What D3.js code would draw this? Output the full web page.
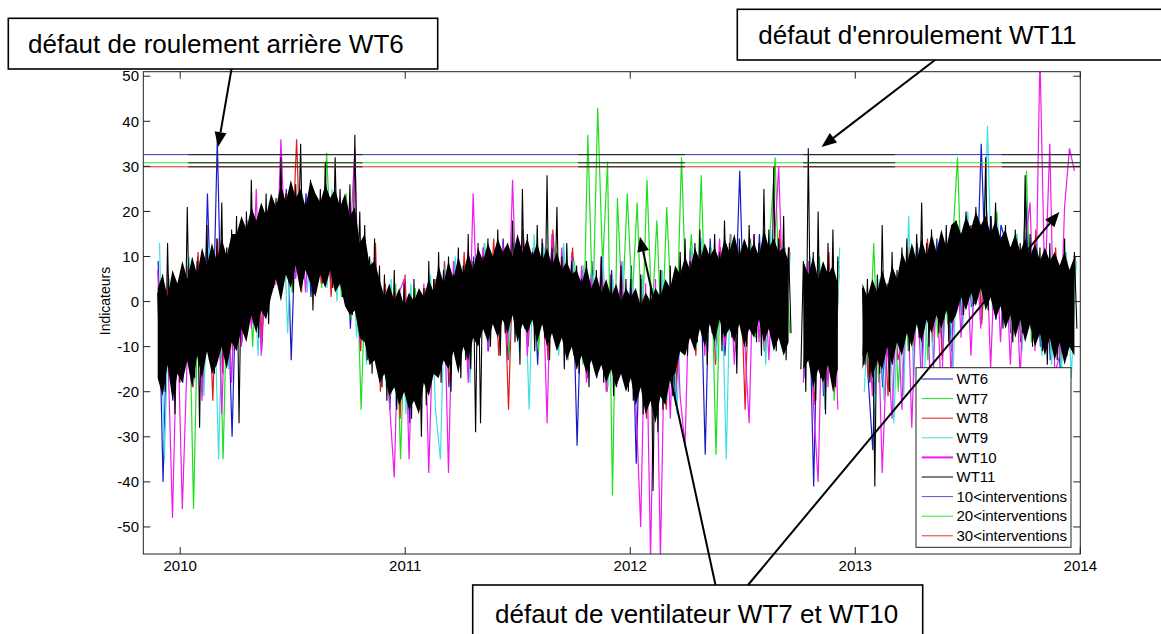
<!DOCTYPE html>
<html><head><meta charset="utf-8">
<script src="https://cdn.jsdelivr.net/npm/d3@7"></script>
<style>html,body{margin:0;padding:0;background:#fff;} svg{display:block;font-family:"Liberation Sans",Arial,sans-serif;}</style>
</head><body><svg id="chart" width="1161" height="634"></svg>
<script>
// ---------------- DATA ----------------
const yearTicks = [2010, 2011, 2012, 2013, 2014];
const valueTicks = [-50, -40, -30, -20, -10, 0, 10, 20, 30, 40, 50];
const seriesNames = ["WT6", "WT7", "WT8", "WT9", "WT10", "WT11"];
const thresholdNames = ["10<interventions", "20<interventions", "30<interventions"];
const thresholdValues = [32.6, 30.8, 29.9];
const thresholdBlackPeriods = [[2010.036, 2010.81], [2011.769, 2012.243], [2012.768, 2013.177], [2013.651, 2014.0]];

// WT6..WT10 sampled every 8 days from their start year, WT11 every 4 days
const coloredStart = [2009.902, 2009.906, 2009.904, 2009.908, 2009.900];
const coloredStepDays = 8;
const wt11Start = 2009.900;
const wt11StepDays = 4;
// WT11 dense core (typical low / high of the daily values) per 8-day bin
const wt11BandStart = 2009.900;
const wt11BandStepDays = 8;

const wt6 = [9,-40,4,-22,1,
 -18,7,-15,10,-20,24,-12,36,-14,8,-30,
 12,-9,18,-5,14,-11,20,
 2,22,5,25,-13,21,6,24,1,19,8,26,4,20,3,23,
 -6,16,-10,12,-13,9,
 -18,3,-24,1,-20,5,-27,-1,-22,2,-19,4,
 -15,7,-19,9,-12,6,-16,10,
 -8,12,-11,9,-5,14,-13,10,-7,16,-9,11,-14,13,-6,15,-10,8,-12,11,
 -32,6,-14,9,-17,4,-12,7,-19,3,-15,8,
 -36,4,-21,2,-25,6,-19,1,-23,5,
 -9,12,-6,10,-34,14,-8,11,-12,9,-5,29,-10,13,-7,15,-11,10,-4,14,-9,12,
 null,null,
 -17,8,-41,10,-21,6,-18,9,
 null,null,null,null,
 2,-16,-33,4,-19,1,-14,3,
 -10,11,-7,13,-12,9,-5,14,-9,10,-11,
 16,-3,18,-1,0,35,2,19,-4,17,
 13,-7,15,-9,24,-6,12,-10,
 11,-13,8,-15,10,-9,7];

const wt7 = [5,-16,2,-12,3,
 -14,9,-46,6,-17,11,-13,8,-35,12,-10,
 15,-6,11,-10,17,-3,13,
 4,20,7,23,2,18,9,22,5,21,3,33,8,19,1,24,
 -4,14,-24,10,-12,6,
 -16,2,-21,4,-35,0,-19,3,-23,1,-17,5,
 -13,8,-17,6,-11,9,-15,7,
 -6,13,-10,8,-4,12,-12,10,-8,14,-5,9,-11,12,-7,15,-9,11,-13,10,
 4,-14,37,-3,43,8,31,-43,23,-2,24,0,
 22,-8,27,-4,18,-10,21,-3,-7,32,
 -2,15,-6,28,-9,12,-34,10,-5,13,-11,9,-4,14,-8,11,-10,16,32,-6,12,-7,
 null,null,
 -14,7,-19,10,-16,5,-22,8,
 null,null,null,null,
 -3,-15,13,-18,1,-12,3,-20,
 9,-11,12,-6,10,-13,14,-8,11,-5,13,
 32,-2,17,1,19,-4,16,3,20,-1,
 12,-8,15,-5,29,-9,13,-6,
 10,-12,9,-14,11,-10,8];

const wt8 = [3,-13,6,-17,0,
 -15,8,-19,11,-12,9,-22,14,-16,7,-11,
 14,-7,16,-4,18,-9,15,
 6,21,3,24,8,36,2,20,7,23,4,25,1,22,5,19,
 -3,15,-11,11,-8,13,
 -20,4,-18,2,-26,6,-21,0,-24,3,-17,5,
 -14,9,-18,7,-13,11,-16,8,
 -9,11,-6,14,-12,9,-24,13,-8,15,-10,12,-5,10,-13,16,-7,9,-11,12,
 -13,7,-17,5,-11,9,-20,4,-14,6,-18,3,
 -22,5,-26,3,-19,7,-24,2,-20,4,
 -8,11,-12,13,-6,10,-14,12,-9,15,-5,11,-24,14,-7,10,-11,13,-8,16,-10,12,
 null,null,
 -15,9,-23,7,-18,11,-20,6,
 null,null,null,null,
 1,-17,4,-14,2,-21,5,-13,
 -8,12,-11,10,-6,14,-9,11,-13,13,-4,
 15,-2,19,2,17,-5,20,0,18,3,
 11,-6,14,-9,12,-4,16,-8,
 9,-11,12,-13,8,-9,10];

const wt9 = [13,-35,5,-16,2,
 -14,10,-18,7,-21,12,5,-35,9,-15,13,
 -8,16,-5,13,-12,17,-2,
 20,4,23,-7,21,7,24,2,19,6,22,3,25,0,21,5,
 14,-8,12,-14,9,-10,
 2,-19,5,-23,1,-25,4,-21,0,-18,6,-24,
 -35,8,-16,10,-12,7,-18,9,
 -7,13,-10,11,-5,12,-9,14,-11,10,-24,15,-6,12,-8,11,-12,13,-5,9,
 -12,8,-16,6,-13,10,-19,5,-14,9,-17,4,
 -20,6,-24,3,-18,7,-22,2,-25,5,
 -7,12,-10,14,-6,11,-13,9,-35,15,-8,12,-11,13,-5,10,-14,16,-9,12,-6,11,
 null,null,
 -16,10,-20,8,-24,7,-17,12,
 null,null,null,null,
 -20,2,-24,5,-22,1,-27,4,
 -21,19,-18,12,-25,9,-14,13,-10,11,-16,
 17,-6,20,-3,16,1,39,-2,18,-5,
 13,-9,15,-11,12,-7,14,-12,
 10,-14,8,-16,11,-17,9];

const wt10 = [7,-20,-8,-48,-3,
 -46,-12,-19,5,-22,9,-16,11,-25,8,-18,
 14,-10,17,-6,25,-12,18,
 3,4,36,8,23,5,20,2,24,9,21,4,19,7,23,1,
 12,34,-9,14,-14,10,
 -17,3,-22,-39,2,5,-35,1,-20,4,-38,0,
 -16,7,-38,9,-13,6,-18,24,
 -8,12,-11,9,-6,13,-10,27,-7,14,-12,10,-5,11,-27,15,-9,12,-13,10,
 -15,8,-18,5,-12,10,-20,6,-16,9,-14,3,
 -22,-50,4,-57,5,-57,2,-26,6,-21,
 -32,10,-8,13,-12,11,-6,14,-10,9,-14,12,-7,-27,15,-9,11,-13,10,30,-5,12,
 null,null,
 -18,9,-22,-40,7,-19,10,-24,
 null,null,null,null,
 -12,1,-21,3,-38,-9,-26,2,
 -24,8,-28,5,-19,10,-30,7,-22,11,-17,
 14,-8,16,-12,13,-6,18,-15,15,-9,
 12,-14,10,-17,13,22,-11,55,
 2,35,-16,-12,21,34,29];

const wt11 = [2,-15,6,-20,13,-12,3,-25,4,-18,
 8,-14,21,-10,6,-17,9,-28,11,-8,17,-13,5,
 -16,14,-6,22,-12,12,-9,16,-4,19,-27,10,-7,20,
 -3,27,0,18,-8,21,2,24,-5,15,3,23,6,32,
 4,24,8,20,2,26,10,35,5,22,7,27,-2,23,9,25,4,31,11,21,3,32,8,
 25,1,22,6,26,-3,37,2,20,
 -8,17,-13,10,-16,14,-11,8,-19,
 6,-22,2,-17,7,-24,-1,-18,4,-21,1,-26,5,-19,0,-30,3,-23,
 9,-16,5,-12,11,-18,7,-14,10,-20,6,-11,12,-17,8,-13,15,-15,9,
 -29,13,-27,10,-6,14,-10,9,-4,16,-12,11,-7,13,-3,18,-9,12,-14,25,-6,15,-2,11,-11,17,-5,14,-8,28,-13,12,-4,21,-9,10,-15,13,-7,9,-12,
 8,-16,5,-12,9,-19,3,-14,7,-10,10,-18,4,-15,6,-21,2,-13,8,-17,5,-20,
 5,-22,2,-18,6,-25,0,-20,4,-42,1,-29,7,-24,3,-19,8,-21,5,
 -10,11,-6,14,-12,9,-4,13,-9,16,-2,10,-14,12,-7,15,-5,11,-11,18,-3,13,-8,10,-16,14,-6,12,-10,17,-4,15,-9,13,-12,25,-5,16,-8,30,-11,14,-6,19,-13,12,-7,
 null,null,null,
 -15,9,-20,34,-12,11,-22,20,-17,8,-25,13,-14,16,-19,10,
 null,null,null,null,null,null,null,null,null,
 3,-14,5,-18,1,-41,6,-16,17,-12,4,-20,11,-10,7,
 -9,12,-5,14,-11,10,-3,15,-8,22,-6,13,-10,16,-2,11,-7,14,-4,17,-9,15,
 0,18,3,15,-3,20,5,17,-1,21,2,16,6,32,-2,19,4,22,1,
 14,-6,17,-3,12,-9,16,-1,13,-7,28,-4,15,-10,11,-5,
 12,-11,9,-14,13,-8,10,-13,8,-10,14,-12,7,-9,11,-6];

const wt11BandLow = [-17,-21,-14,-22,-16,
 -18,-13,-19,-12,-17,-11,-16,-14,-10,-15,-9,
 -11,-6,-9,-3,-7,-2,-4,
 1,5,0,6,3,8,2,7,4,1,6,3,7,2,4,-1,
 -3,-2,-8,-9,-14,-13,
 -18,-16,-21,-19,-23,-20,-24,-22,-25,-18,-21,-16,
 -17,-13,-15,-11,-16,-10,-13,-8,
 -10,-6,-9,-5,-8,-4,-7,-3,-9,-5,-7,-4,-9,-5,-10,-7,-11,-8,-13,-10,
 -15,-12,-16,-13,-17,-14,-18,-15,-19,-16,-20,-17,
 -23,-19,-25,-22,-27,-21,-23,-17,-16,-11,
 -12,-8,-11,-6,-10,-5,-9,-4,-8,-6,-9,-5,-10,-6,-8,-4,-9,-6,-11,-8,-12,-9,
 null,null,
 -15,-13,-19,-15,-18,-14,-20,-15,
 null,null,null,null,
 -15,-11,-17,-13,-15,-10,-14,-9,
 -12,-7,-10,-5,-9,-4,-7,-3,-6,-2,-5,
 -3,1,-2,2,-1,3,-2,1,-4,-1,
 -6,-3,-8,-4,-9,-5,-10,-7,
 -12,-8,-13,-9,-14,-10,-12];

const wt11BandHigh = [3,6,1,7,4,
 9,5,10,6,12,8,13,9,14,10,15,
 15,19,16,21,18,22,19,
 24,21,26,22,27,23,25,21,27,24,22,26,23,25,21,24,
 19,21,13,15,8,9,
 5,1,4,0,3,-1,2,0,3,1,5,2,
 8,4,9,5,10,6,11,7,
 12,9,13,10,14,11,13,10,15,11,14,10,13,9,12,8,11,7,9,6,
 7,4,8,3,6,2,5,1,4,0,3,1,
 3,-1,2,0,3,1,5,3,8,6,
 10,7,12,9,13,10,12,9,14,11,15,10,14,11,13,10,16,12,14,11,12,9,
 null,null,
 9,6,10,5,9,6,8,4,
 null,null,null,null,
 4,1,5,2,7,3,8,5,
 11,8,13,9,14,10,15,11,16,12,17,
 18,15,19,16,20,17,19,15,18,14,
 16,12,15,11,14,10,13,9,
 12,9,11,8,11,7,10];

const annotationTexts = ["défaut de roulement arrière WT6", "défaut d'enroulement WT11", "défaut de ventilateur WT7 et WT10"];
const yLabel = "Indicateurs";

// ---------------- LAYOUT / STYLE ----------------
const seriesColors = ["#1a1ac8", "#1fe01f", "#e01a1a", "#40e0e0", "#ee1aee", "#000000"];
const thresholdColors = ["#3434a8", "#2ee02e", "#e02828"];
const legendThresholdColors = ["#5a5ac0", "#33dd33", "#e03333"];

const svg = d3.select("#chart");
const L = 143.3, T = 71.7, R = 1080.3, B = 554;
const x = d3.scaleLinear().domain([2009.836, 2014]).range([L, R]);
const y = d3.scaleLinear().domain([-56, 51]).range([B, T]);

svg.append("defs").append("clipPath").attr("id", "plotclip")
  .append("rect").attr("x", L).attr("y", T).attr("width", R - L).attr("height", B - T);

const plot = svg.append("g").attr("clip-path", "url(#plotclip)");

function toPoints(arr, start, stepDays) {
  return arr.map((v, i) => ({ t: start + i * stepDays / 365.25, v }));
}
const line = d3.line().defined(d => d.v !== null).x(d => x(d.t)).y(d => y(d.v));

const allSeries = [wt6, wt7, wt8, wt9, wt10];
allSeries.forEach((arr, k) => {
  plot.append("path").datum(toPoints(arr, coloredStart[k], coloredStepDays))
    .attr("d", line).attr("fill", "none").attr("stroke", seriesColors[k])
    .attr("stroke-width", 1.2);
});

// WT11 dense core
const bandPts = wt11BandLow.map((lo, i) => ({ t: wt11BandStart + i * wt11BandStepDays / 365.25, lo, hi: wt11BandHigh[i] }));
const area = d3.area().defined(d => d.lo !== null).x(d => x(d.t)).y0(d => y(d.lo)).y1(d => y(d.hi));
plot.append("path").datum(bandPts).attr("d", area).attr("fill", "#000");

plot.append("path").datum(toPoints(wt11, wt11Start, wt11StepDays))
  .attr("d", line).attr("fill", "none").attr("stroke", seriesColors[5])
  .attr("stroke-width", 1.1);

// threshold lines
thresholdValues.forEach((v, k) => {
  plot.append("line").attr("x1", x(2009.836)).attr("x2", x(2014))
    .attr("y1", y(v)).attr("y2", y(v)).attr("stroke", thresholdColors[k]).attr("stroke-width", 1);
  thresholdBlackPeriods.forEach(p => {
    plot.append("line").attr("x1", x(p[0])).attr("x2", x(p[1]))
      .attr("y1", y(v)).attr("y2", y(v)).attr("stroke", "#222").attr("stroke-width", 1);
  });
});

// axes box
const axisG = svg.append("g").attr("font-size", 15).attr("fill", "#000");
axisG.append("rect").attr("x", L).attr("y", T).attr("width", R - L).attr("height", B - T)
  .attr("fill", "none").attr("stroke", "#222").attr("stroke-width", 1);
const tk = 7;
yearTicks.forEach(yr => {
  const px = x(yr);
  axisG.append("line").attr("x1", px).attr("x2", px).attr("y1", B).attr("y2", B - tk).attr("stroke", "#222");
  axisG.append("line").attr("x1", px).attr("x2", px).attr("y1", T).attr("y2", T + tk).attr("stroke", "#222");
  axisG.append("text").attr("x", px).attr("y", 571).attr("text-anchor", "middle").text(d3.format("d")(yr));
});
valueTicks.forEach(v => {
  const py = y(v);
  axisG.append("line").attr("x1", L).attr("x2", L + tk).attr("y1", py).attr("y2", py).attr("stroke", "#222");
  axisG.append("line").attr("x1", R).attr("x2", R - tk).attr("y1", py).attr("y2", py).attr("stroke", "#222");
  axisG.append("text").attr("x", 139).attr("y", py).attr("dy", "0.35em").attr("text-anchor", "end").text(v);
});
axisG.append("text").attr("transform", "translate(110,301) rotate(-90)")
  .attr("text-anchor", "middle").attr("font-size", 14).text(yLabel);

// legend
const lg = svg.append("g").attr("font-size", 15);
lg.append("rect").attr("x", 916).attr("y", 367.7).attr("width", 155).attr("height", 179.6)
  .attr("fill", "#fff").attr("stroke", "#222").attr("stroke-width", 1);
const legendItems = seriesNames.map((n, k) => ({ n, c: seriesColors[k], w: k === 4 ? 2 : 1 }))
  .concat(thresholdNames.map((n, k) => ({ n, c: legendThresholdColors[k], w: 1 })));
legendItems.forEach((it, k) => {
  const ly = 379 + k * 19.6;
  lg.append("line").attr("x1", 921.7).attr("x2", 953).attr("y1", ly).attr("y2", ly)
    .attr("stroke", it.c).attr("stroke-width", it.w);
  lg.append("text").attr("x", 956.5).attr("y", ly).attr("dy", "0.35em").text(it.n);
});

// annotations
const ann = svg.append("g");
function box(x0, y0, x1, y1, txt, tx, ty) {
  ann.append("rect").attr("x", x0).attr("y", y0).attr("width", x1 - x0).attr("height", y1 - y0)
    .attr("fill", "#fff").attr("stroke", "#000").attr("stroke-width", 1.6);
  ann.append("text").attr("x", tx).attr("y", ty).attr("font-size", 26).text(txt);
}
box(8.3, 18.3, 437.7, 69, annotationTexts[0], 28, 53.3);
box(737.3, 9.3, 1175, 60, annotationTexts[1], 758.3, 44.3);
box(472.7, 585, 922.7, 645, annotationTexts[2], 495, 623.3);

function arrow(x1, y1, x2, y2) {
  const ang = Math.atan2(y2 - y1, x2 - x1), hl = 15, hw = 6;
  const bx = x2 - hl * Math.cos(ang), by = y2 - hl * Math.sin(ang);
  ann.append("line").attr("x1", x1).attr("y1", y1).attr("x2", bx).attr("y2", by)
    .attr("stroke", "#000").attr("stroke-width", 2);
  const px = -Math.sin(ang) * hw, py = Math.cos(ang) * hw;
  ann.append("path").attr("d", `M${x2},${y2}L${bx + px},${by + py}L${bx - px},${by - py}Z`).attr("fill", "#000");
}
arrow(231.5, 69, x(2010.168), y(34.3));
arrow(935, 60, x(2012.85), y(34.3));
arrow(715.5, 585, x(2012.043), y(14.4));
arrow(748, 585, x(2013.907), y(19.9));
</script></body></html>
